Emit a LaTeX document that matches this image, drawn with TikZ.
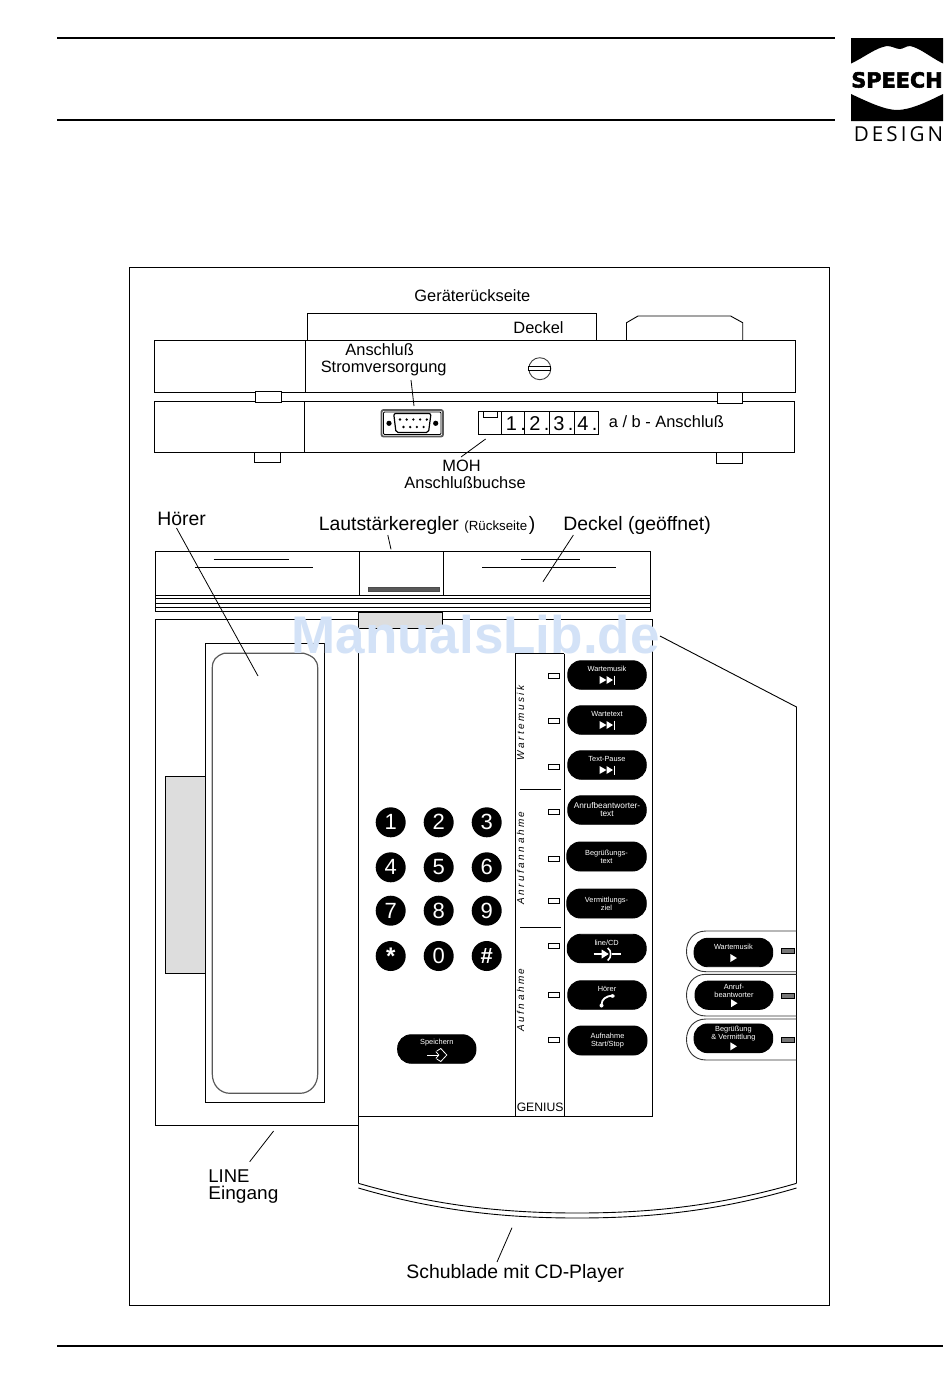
\documentclass[tikz,border=0pt]{standalone}
\usepackage{fontspec}
\setmainfont{Liberation Sans}
\newfontfamily\logofont[LetterSpace=15]{Open Sans}
\newfontfamily\logobold[BoldFeatures={FakeBold=2.5}]{DejaVu Sans}
\newfontfamily\spacedfont[LetterSpace=25]{Liberation Sans}
\usetikzlibrary{calc}
\definecolor{wmark}{HTML}{D3E2F7}
\definecolor{panelgray}{HTML}{DDDDDD}
\definecolor{ledgray}{HTML}{777777}
\newcommand{\fs}[1]{\fontsize{#1}{#1}\selectfont}
\tikzset{
  every path/.style={line width=0.9pt},
  lab/.style={inner sep=0pt,anchor=base west,font=\fs{16.4}},
  big/.style={inner sep=0pt,anchor=base west,font=\fs{19.4}},
  leader/.style={line width=0.8pt},
  box/.style={draw=black,fill=white},
  btn/.style={draw=black,fill=black,rounded corners=13.5pt,inner sep=0pt},
  btext/.style={inner sep=0pt,text=white,align=center,font=\fontsize{7.4}{8}\selectfont},
  keyb/.style={circle,fill=black,inner sep=0pt,minimum size=30pt,text=white,font=\fs{22}},
  led/.style={draw=black,fill=white,line width=0.9pt},
  ledd/.style={draw=black,fill=ledgray,line width=0.9pt},
  vert/.style={inner sep=0pt,anchor=base west,rotate=90,font=\fs{10}\spacedfont\itshape},
  wic/.style={draw=white,line width=1pt},
  wfill/.style={fill=white,draw=none},
}
\newcommand{\pbtn}[6]{\node[btn,minimum width=#4pt,minimum height=#5pt] (#1) at (#2,#3) {};
  \begin{scope}[shift={(#1.center)}]#6\end{scope}}
\newcommand{\nextic}{\path[wfill] (-7.5,1) -- (-0.5,5) -- (-7.5,9) -- cycle;
  \path[wfill] (-0.5,1) -- (6,5) -- (-0.5,9) -- cycle;
  \draw[wic] (7,0.5) -- (7,9.5);}
\newcommand{\playic}[1]{\path[wfill] (-3,#1-4) -- (3.5,#1) -- (-3,#1+4) -- cycle;}
\begin{document}
\begin{tikzpicture}[x=1pt,y=-1pt]
\useasboundingbox (0,0) rectangle (950,1379);
\fill[white] (0,0) rectangle (950,1379);
% header rules
\coordinate (h1a) at (57,38); \coordinate (h1b) at (835,38);
\coordinate (h2a) at (57,120); \coordinate (h2b) at (835,120);
\coordinate (h3a) at (57,1346); \coordinate (h3b) at (943,1346);
\draw[line width=1.4pt] (h1a) -- (h1b);
\draw[line width=1.4pt] (h2a) -- (h2b);
\draw[line width=1.4pt] (h3a) -- (h3b);
% logo
\fill[black] (851,38) -- (943,38) -- (943,63.5) .. controls (930,57) and (920,48) .. (910,46) .. controls (906,46) and (903,49) .. (900,49) .. controls (896,49) and (892,46) .. (887,46) .. controls (875,48) and (865,57) .. (851,63.5) -- cycle;
\fill[black] (851,94) .. controls (868,102) and (885,110) .. (897,110) .. controls (910,110) and (927,102) .. (943,94) -- (943,121) -- (851,121) -- cycle;
\node[inner sep=0pt,anchor=base,font=\fs{20.8}\logobold\bfseries] (logoa) at (897,87.5) {SPEECH};
\node[inner sep=0pt,anchor=base,font=\fs{20.6}\logofont] (logob) at (898.5,141.5) {DESIGN};
% frame
\draw (129,267) rectangle (829,1305);
% rear view
\node[lab] (tg) at (414,301.5) {Geräterückseite};
\draw (307.5,340) -- (307.5,313) -- (596.5,313) -- (596.5,340);
\draw (626.5,340) -- (626.5,322.7) -- (638,316) -- (730.6,316) -- (742.7,322.7) -- (742.7,340);
\node[lab] (td) at (513,333) {Deckel};
\draw (154.3,340.3) rectangle (795.6,392.3);
\draw (305.6,340.3) -- (305.6,392.3);
\draw (154.3,401.3) rectangle (794.6,452.3);
\draw (304.3,401.3) -- (304.3,452.3);
\draw[box] (255.3,391.3) rectangle (281.3,402.7);
\draw[box] (717.6,392.7) rectangle (742.8,403.7);
\draw[box] (254.5,452.3) rectangle (280.5,462.3);
\draw[box] (716,452.3) rectangle (742.8,463.3);
\node[lab] (ta) at (345,355.5) {Anschluß};
\node[lab] (ts) at (320.3,372.7) {Stromversorgung};
% screw
\draw[draw=black!75] (539.8,368.7) circle (11);
\draw[fill=white] (528.8,366.8) rectangle (550.8,370.8);
% sub-D
\draw[draw=black!65,line width=1.8pt,rounded corners=2pt] (381.5,410) rectangle (443,436.5);
\draw[line width=0.8pt,rounded corners=1pt] (383.5,412) rectangle (441,434.5);
\draw[line width=1.2pt,rounded corners=2pt] (393.7,413.5) -- (431,413.5) -- (428.5,432.5) -- (396,432.5) -- cycle;
\fill (389,423.3) circle (2.6);
\fill (435.7,423.3) circle (2.6);
\foreach \px in {400,406.7,413.4,420.1,426.8} \fill (\px,419.5) circle (1.3);
\foreach \px in {403.5,410.2,416.9,423.6} \fill (\px,427) circle (1.3);
% ports
\draw (478.2,411) rectangle (598,434.7);
\draw (501.6,411) -- (501.6,434.7);
\draw[line width=0.6pt] (524.6,411) -- (524.6,434.7);
\draw (549.8,411) -- (549.8,434.7);
\draw (574.5,411) -- (574.5,434.7);
\draw (483.4,411) -- (483.4,417.3) -- (497.7,417.3) -- (497.7,411);
\node[inner sep=0pt,anchor=base west,font=\fs{20}] (p1) at (505.5,430) {1\,.};
\node[inner sep=0pt,anchor=base west,font=\fs{20}] (p2) at (529,430) {2\,.};
\node[inner sep=0pt,anchor=base west,font=\fs{20}] (p3) at (553,430) {3\,.};
\node[inner sep=0pt,anchor=base west,font=\fs{20}] (p4) at (577,430) {4\,.};
\node[lab] (tab) at (608.5,427) {a / b - Anschluß};
\node[lab] (tm) at (442,471) {MOH};
\node[lab] (tb) at (404,488) {Anschlußbuchse};
\coordinate (l1a) at (411,380); \coordinate (l1b) at (414,406);
\coordinate (l2a) at (485.6,439); \coordinate (l2b) at (461,457);
\draw[leader] (l1a) -- (l1b);
\draw[leader] (l2a) -- (l2b);
% labels of the open view
\node[big] (th) at (157,525) {Hörer};
\node[big] (tl) at (318.3,530.7) {Lautstärkeregler};
\node[inner sep=0pt,anchor=base west,font=\fs{13.3}] (tr) at (464,530.7) {(Rückseite};
\node[big] (tr2) at (528.5,530.7) {)};
\node[big] (tdo) at (563,530.7) {Deckel (geöffnet)};
% lid
\draw (155,551) rectangle (650.5,611.3);
\draw (155,595) -- (650.5,595);
\draw (155,598.7) -- (650.5,598.7);
\draw (155,603.3) -- (650.5,603.3);
\draw (155,607.7) -- (650.5,607.7);
\draw (359.4,551) -- (359.4,595);
\draw (443,551) -- (443,595);
\draw (213.7,559.3) -- (289,559.3);
\draw (194.8,567.3) -- (313,567.3);
\draw (521,559.3) -- (580,559.3);
\draw (482,567.3) -- (616,567.3);
\draw[draw=black!70,fill=black!65] (368,587.5) rectangle (439,591.5);
% body
\draw (155,619.5) -- (652.6,619.5);
\draw (155,619.5) -- (155,1125) -- (358.4,1125);
\draw (358.4,628) -- (358.4,1183.3);
\draw (358.4,1116) -- (652.6,1116);
\draw (652.6,619.5) -- (652.6,1116);
\draw (515,653.5) -- (515,1116);
\draw (564,653.5) -- (564,1116);
\draw (515,653.5) -- (564,653.5);
\draw[draw=black,fill=panelgray] (358.7,612.5) rectangle (442,628.3);
\draw[line width=1.6pt] (358.7,612.5) -- (442,612.5);
% handset
\draw[fill=panelgray] (165.3,776) rectangle (205.4,973);
\draw[fill=white] (205.4,643.3) rectangle (324.7,1102.3);
\draw[draw=black!65,line width=1.2pt] (212.3,668) .. controls (212.3,660) and (216,656) .. (224,653.3) -- (304,653.3) .. controls (313,656) and (317.7,660) .. (317.7,668) -- (317.7,1074) .. controls (317.7,1085) and (310,1093.3) .. (300,1093.3) -- (230,1093.3) .. controls (220,1093.3) and (212.3,1085) .. (212.3,1074) -- cycle;
\coordinate (l3a) at (176.5,528); \coordinate (l3b) at (258,676);
\coordinate (l4a) at (387.8,535); \coordinate (l4b) at (391,549.3);
\coordinate (l5a) at (573.4,535); \coordinate (l5b) at (543,581.7);
\draw[leader] (l3a) -- (l3b);
\draw[leader] (l4a) -- (l4b);
\draw[leader] (l5a) -- (l5b);
% case outline
\draw (660,636) -- (796.5,707) -- (796.5,1183);
\draw (358.4,1183.3) .. controls (440,1207) and (510,1213) .. (577,1213) .. controls (645,1213) and (715,1207) .. (796.5,1183.3);
\draw (358.4,1188) .. controls (440,1212) and (510,1218) .. (577,1218) .. controls (645,1218) and (715,1212) .. (796.5,1188);
% keypad
\node[keyb] (k1) at (390.7,822.3) {1};
\node[keyb] (k2) at (438.7,822.3) {2};
\node[keyb] (k3) at (486.7,822.3) {3};
\node[keyb] (k4) at (390.7,867.3) {4};
\node[keyb] (k5) at (438.7,867.3) {5};
\node[keyb] (k6) at (486.7,867.3) {6};
\node[keyb] (k7) at (390.7,910.7) {7};
\node[keyb] (k8) at (438.7,910.7) {8};
\node[keyb] (k9) at (486.7,910.7) {9};
\node[keyb] (ks) at (390.7,956) {\raisebox{-5pt}{\fs{24}\bfseries *}};
\node[keyb] (k0) at (438.7,956) {0};
\node[keyb] (kh) at (486.7,956) {\bfseries\#};
\pbtn{sp}{436.8}{1049}{78.3}{28.5}{\node[btext] (spt) at (0,-6) {Speichern};
  \draw[draw=white,line width=0.8pt] (-9.5,6) -- (2,6);
  \draw[draw=white,line width=0.8pt] (-1,2.5) -- (2,6) -- (-1,9.5);
  \draw[draw=white,line width=0.8pt] (0,2) -- (4,-0.5) -- (10,6) -- (4,12.5) -- (0,10);}
% side column
\draw (520,789.3) -- (561,789.3);
\draw (520,927.3) -- (561,927.3);
\node[vert] (v1) at (524,761) {Wartemusik};
\node[vert] (v2) at (524,905) {Anrufannahme};
\node[vert] (v3) at (524,1032) {Aufnahme};
\node[inner sep=0pt,anchor=base west,font=\fs{12.2}] (gen) at (516.3,1111) {GENIUS};
\draw[led] (548.5,673) rectangle (559,678);
\draw[led] (548.5,718) rectangle (559,723);
\draw[led] (548.5,764) rectangle (559,769);
\draw[led] (548.5,809.5) rectangle (559,814.5);
\draw[led] (548.5,856) rectangle (559,861);
\draw[led] (548.5,898) rectangle (559,903);
\draw[led] (548.5,943.5) rectangle (559,948.5);
\draw[led] (548.5,992.5) rectangle (559,997.5);
\draw[led] (548.5,1037.5) rectangle (559,1042.5);
% function buttons
\pbtn{b1}{607}{675}{78.5}{28.5}{\node[btext] (b1t) at (0,-6) {Wartemusik}; \nextic}
\pbtn{b2}{607}{720}{78.5}{28.5}{\node[btext] (b2t) at (0,-6) {Wartetext}; \nextic}
\pbtn{b3}{607}{765}{78.5}{28.5}{\node[btext] (b3t) at (0,-6) {Text-Pause}; \nextic}
\pbtn{b4}{607}{810}{78.5}{28.5}{\node[btext,font=\fontsize{8.3}{8}\selectfont] (b4t) at (0,0) {Anrufbeantworter-\\text};}
\pbtn{b5}{606.5}{856.5}{79.5}{29}{\node[btext] (b5t) at (0,0) {Begrüßungs-\\text};}
\pbtn{b6}{606.5}{903.5}{79.5}{29}{\node[btext] (b6t) at (0,0) {Vermittlungs-\\ziel};}
\pbtn{b7}{606.7}{948.5}{79}{28.5}{\node[btext] (b7t) at (0,-6) {line/CD};
  \draw[draw=white,line width=1.6pt] (-13,5.5) -- (-2,5.5);
  \path[wfill] (-5,1) -- (2,5.5) -- (-5,10) -- cycle;
  \draw[draw=white,line width=1.6pt] (1,-0.5) .. controls (5,2) and (5,9) .. (1,12);
  \draw[draw=white,line width=1.6pt] (5,5.5) -- (14,5.5);}
\pbtn{b8}{607}{995}{78.5}{28.5}{\node[btext] (b8t) at (0,-6) {Hörer};
  \draw[draw=white,line width=1.8pt] (-5.5,10) .. controls (-5.5,4) and (-1,1) .. (6,0.5);
  \fill[white] (-5.5,10.5) ellipse (2 and 2);
  \fill[white] (5.5,1) ellipse (2.2 and 1.8);}
\pbtn{b9}{607.5}{1040.5}{79}{29}{\node[btext] (b9t) at (0,0) {Aufnahme\\Start/Stop};}
% right-hand group
\draw[draw=black!80] (796.5,931) -- (706,931) .. controls (680,931) and (680,971.7) .. (706,971.7) -- (796.5,971.7);
\draw[draw=black!80] (796.5,974.3) -- (706,974.3) .. controls (680,974.3) and (680,1016) .. (706,1016) -- (796.5,1016);
\draw[draw=black!80] (796.5,1019) -- (706,1019) .. controls (680,1019) and (680,1060) .. (706,1060) -- (796.5,1060);
\pbtn{c1}{733.4}{952.5}{78.7}{28.4}{\node[btext] (c1t) at (0,-6) {Wartemusik}; \playic{5.5}}
\pbtn{c2}{734}{995.2}{78}{28.3}{\node[btext] (c2t) at (0,-4.5) {Anruf-\\beantworter}; \playic{8}}
\pbtn{c3}{733.4}{1038.3}{78.7}{28.7}{\node[btext] (c3t) at (0,-4.5) {Begrüßung\\\& Vermittlung}; \playic{8}}
\draw[ledd] (781.7,948.3) rectangle (794.7,953.3);
\draw[ledd] (781.7,993.3) rectangle (794.7,998.3);
\draw[ledd] (781.7,1037.3) rectangle (794.7,1042.3);
% bottom labels
\coordinate (l6a) at (273.6,1131); \coordinate (l6b) at (249.7,1161.7);
\coordinate (l7a) at (512,1227.7); \coordinate (l7b) at (497,1262);
\draw[leader] (l6a) -- (l6b);
\draw[leader] (l7a) -- (l7b);
\node[inner sep=0pt,anchor=base west,font=\fs{18.5}] (tli) at (208,1182) {LINE};
\node[inner sep=0pt,anchor=base west,font=\fs{18.5},xscale=1.03] (tei) at (208,1199.5) {Eingang};
\node[big] (tsc) at (406,1278) {Schublade mit CD-Player};
% watermark
\node[inner sep=0pt,anchor=base west,text=wmark,font=\fs{53}\bfseries] (wm) at (291,653) {ManualsLib.de};
\end{tikzpicture}
\end{document}
